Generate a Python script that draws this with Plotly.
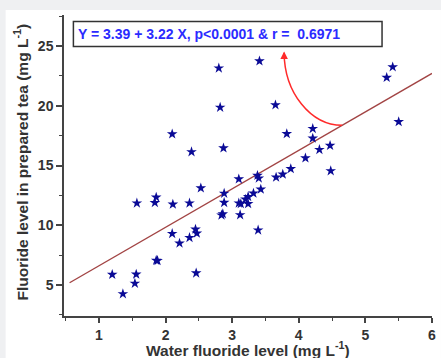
import plotly.graph_objects as go

# ---- data ----
water_fluoride = [2.80, 3.41, 5.41, 5.32, 2.82, 3.65, 5.50, 2.10, 2.39, 2.87,
                  3.82, 4.21, 4.21, 4.31, 4.47, 4.10, 3.88, 4.48, 3.76, 3.66,
                  3.38, 3.40, 3.10, 2.53, 1.57, 1.84, 1.86, 2.11, 2.36, 2.88,
                  2.88, 3.10, 3.13, 3.20, 3.24, 3.24, 3.32, 3.43, 2.84, 2.86,
                  3.12, 3.39, 2.45, 2.47, 2.10, 2.36, 2.21, 1.86, 1.88, 1.20,
                  1.56, 1.54, 2.46, 1.36]
tea_fluoride = [23.15, 23.75, 23.25, 22.37, 19.87, 20.07, 18.66, 17.64, 16.14, 16.47,
                17.66, 18.09, 17.28, 16.33, 16.68, 15.63, 14.73, 14.55, 14.27, 14.02,
                14.17, 13.94, 13.87, 13.12, 11.85, 11.89, 12.35, 11.76, 11.85, 12.67,
                11.90, 11.85, 11.80, 12.18, 12.40, 11.80, 12.68, 13.01, 10.85, 10.95,
                10.87, 9.59, 9.67, 9.33, 9.30, 8.97, 8.50, 7.06, 7.04, 5.88,
                5.90, 5.14, 6.00, 4.26]

fit_intercept = 3.39
fit_slope = 3.22
fit_x = [0.56, 6.0]
fit_y = [fit_intercept + fit_slope * v for v in fit_x]

x_tick_vals = [1, 2, 3, 4, 5, 6]
y_tick_vals = [5, 10, 15, 20, 25]
x_range = [0.476, 6.0]
y_range = [2.41, 27.6]

eq_text = "Y = 3.39 + 3.22 X, p&lt;0.0001 &amp; r = &nbsp;0.6971"
x_title = "Water fluoride level (mg L<sup>-1</sup>)"
y_title = "Fluoride level in prepared tea (mg L<sup>-1</sup>)"

# arrow from the fit line to the equation box
arrow_start_x = 3.78
arrow_start_y = 24.45
arrow_end_x = 4.65
arrow_end_y = fit_intercept + fit_slope * arrow_end_x

W, H = 441, 358
ML, MR, MT, MB = 64, 5, 15, 42
PW, PH = W - ML - MR, H - MT - MB


def px_to_paper_x(px):
    return (px - ML) / PW


def px_to_paper_y(py):
    return (H - MB - py) / PH


fig = go.Figure()

fig.add_trace(go.Scatter(
    x=fit_x, y=fit_y, mode="lines",
    line=dict(color="#a24444", width=1.4),
    hoverinfo="skip", showlegend=False))

fig.add_trace(go.Scatter(
    x=water_fluoride, y=tea_fluoride, mode="markers",
    marker=dict(symbol="star", size=8, color="#0a0a96",
                line=dict(width=0)),
    showlegend=False))

axis_font = dict(family="Arial, Liberation Sans, sans-serif", size=14,
                 color="#333333")

fig.update_xaxes(
    range=x_range, tickvals=x_tick_vals, ticks="outside", ticklen=5,
    tickwidth=1.5, tickcolor="#444444", showline=True, linecolor="#444444",
    linewidth=1.5, showgrid=False, zeroline=False, mirror=False,
    tickfont=dict(axis_font, weight="bold"),
    minor=dict(dtick=0.5, tick0=0, ticks="outside", ticklen=3,
               tickwidth=1.2, tickcolor="#444444", showgrid=False))
fig.update_yaxes(
    range=y_range, tickvals=y_tick_vals, ticks="outside", ticklen=6,
    tickwidth=1.5, tickcolor="#444444", showline=True, linecolor="#444444",
    linewidth=1.5, showgrid=False, zeroline=False, mirror=False,
    tickfont=dict(axis_font, weight="bold"),
    minor=dict(dtick=2.5, tick0=0, ticks="outside", ticklen=3,
               tickwidth=1.2, tickcolor="#444444", showgrid=False))

shapes = [
    # white page on grey border
    dict(type="rect", xref="paper", yref="paper", layer="below",
         x0=px_to_paper_x(5), x1=px_to_paper_x(445),
         y0=px_to_paper_y(362), y1=px_to_paper_y(10),
         fillcolor="white", line=dict(width=0)),
    # equation box
    dict(type="rect", xref="paper", yref="paper", layer="above",
         x0=px_to_paper_x(73.5), x1=px_to_paper_x(385.5),
         y0=px_to_paper_y(46.5), y1=px_to_paper_y(21.5),
         fillcolor="white", line=dict(color="#333333", width=1.5)),
    # curved arrow body
    dict(type="path", xref="x", yref="y", layer="above",
         path=(f"M {arrow_end_x},{arrow_end_y} "
               f"C 4.18,18.39 3.785,21.08 {arrow_start_x},{arrow_start_y}"),
         line=dict(color="#ff2a2a", width=1.5)),
]

annotations = [
    dict(text=eq_text, xref="paper", yref="paper",
         x=px_to_paper_x(76.5), y=px_to_paper_y(33.5),
         xanchor="left", yanchor="middle", showarrow=False,
         font=dict(family="Arial, Liberation Sans, sans-serif", size=14,
                   color="#2b2bff", weight="bold")),
    dict(text="", x=arrow_start_x, y=24.55, xref="x", yref="y",
         ax=0, ay=7, showarrow=True, arrowhead=2, arrowsize=1,
         arrowwidth=1.5, arrowcolor="#ff2a2a", standoff=0),
    dict(text=x_title, xref="paper", yref="paper",
         x=px_to_paper_x(249.5), y=px_to_paper_y(349),
         xanchor="center", yanchor="middle", showarrow=False,
         font=dict(family="Arial, Liberation Sans, sans-serif", size=15.5,
                   color="#333333", weight="bold")),
    dict(text=y_title, xref="paper", yref="paper", textangle=-90,
         x=px_to_paper_x(21), y=px_to_paper_y(162),
         xanchor="center", yanchor="middle", showarrow=False,
         font=dict(family="Arial, Liberation Sans, sans-serif", size=15.5,
                   color="#333333", weight="bold")),
]

fig.update_layout(
    width=W, height=H, autosize=False,
    margin=dict(l=ML, r=MR, t=MT, b=MB, pad=0),
    paper_bgcolor="#eff0f2", plot_bgcolor="white",
    shapes=shapes, annotations=annotations,
    showlegend=False)

fig.write_html(
    "out.html",
    config={"displayModeBar": False},
    post_script=("document.body.style.margin='0';"
                 "document.body.style.padding='0';"
                 "document.body.style.overflow='hidden';"))
